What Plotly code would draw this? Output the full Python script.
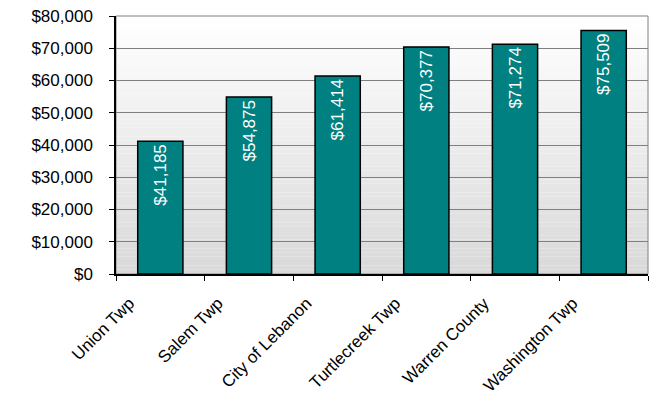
import plotly.graph_objects as go

categories = ["Union Twp", "Salem Twp", "City of Lebanon", "Turtlecreek Twp", "Warren County", "Washington Twp"]
values = [41185, 54875, 61414, 70377, 71274, 75509]
value_labels = ["$41,185", "$54,875", "$61,414", "$70,377", "$71,274", "$75,509"]

fig = go.Figure()
fig.add_trace(go.Bar(
    x=categories, y=values, text=value_labels,
    textposition="inside", insidetextanchor="end", textangle=-90,
    textfont=dict(family="Liberation Sans, Arial", size=17, color="white"),
    marker=dict(color="#008080", line=dict(color="black", width=1.5)),
    width=0.51, cliponaxis=False, constraintext="none",
))

# vertical gradient background (white top -> light gray bottom)
n = 60
shapes = []
for i in range(n):
    t = i / (n - 1)
    c = int(round(255 - (255 - 217) * (1 - t)))
    shapes.append(dict(type="rect", xref="x domain", yref="y domain",
                       x0=0, x1=1, y0=i / n, y1=(i + 1) / n,
                       fillcolor=f"rgb({c},{c},{c})", line=dict(width=0), layer="below"))
shapes.append(dict(type="rect", xref="x domain", yref="y domain", x0=0, x1=1, y0=0, y1=1,
                   line=dict(color="#808080", width=1), fillcolor="rgba(0,0,0,0)", layer="below"))
fig.update_layout(shapes=shapes)

fig.update_layout(
    width=652, height=399,
    margin=dict(l=116, r=4, t=16, b=125),
    paper_bgcolor="white", plot_bgcolor="rgba(0,0,0,0)",
    showlegend=False, bargap=0.49,
    font=dict(family="Liberation Sans, Arial", color="black"),
    xaxis=dict(
        type="category", tickson="boundaries", ticks="outside", ticklen=5,
        tickcolor="black", tickwidth=1, tickangle=-45, ticklabelshift=-31,
        ticklabelstandoff=11,
        tickfont=dict(size=17, color="black"),
        showline=True, linecolor="black", linewidth=1.5, showgrid=False,
        range=[-0.5, 5.5],
    ),
    yaxis=dict(
        range=[0, 80000], dtick=10000, tickprefix="$", tickformat=",",
        ticks="outside", ticklen=5, tickcolor="black", tickwidth=1,
        ticklabelstandoff=13,
        tickfont=dict(size=17, color="black"),
        showline=True, linecolor="black", linewidth=1.5,
        showgrid=True, gridcolor="#808080", gridwidth=1, zeroline=False,
    ),
)

fig.write_html("out.html")
